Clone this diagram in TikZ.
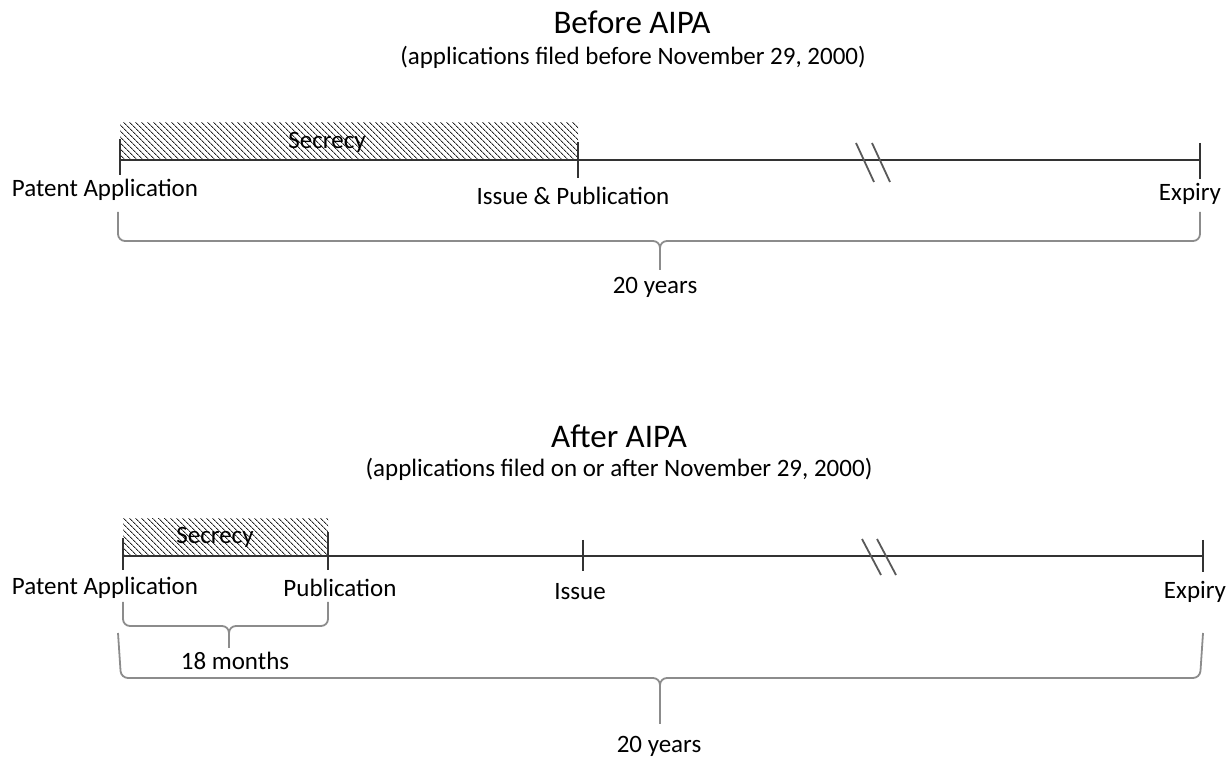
\documentclass[tikz,border=0pt]{standalone}
\usepackage{fontspec}
\setmainfont{Carlito}
\usetikzlibrary{positioning,patterns.meta}

\begin{document}
\begin{tikzpicture}[
    x=1pt, y=1pt,
    tl/.style={draw=black!80, line width=1.4pt},
    brk/.style={draw=black!65, line width=1.8pt},
    lbl/.style={font=\fontsize{25}{30}\selectfont, inner sep=0pt},
    ttl/.style={font=\fontsize{33}{39}\selectfont, inner sep=0pt},
    secret/.style={pattern={Lines[angle=-45,distance=4pt,line width=1pt]},
                   pattern color=black!85},
    brc/.style={draw=black!45, line width=1.8pt, rounded corners=7pt},
  ]
  \useasboundingbox (0,0) rectangle (1230,759);

  %% ===== Before AIPA (top) =====

  \node[ttl] (tBefore) at (632,737) {Before AIPA};
  \node[lbl] (sBefore) at (633,702) {(applications filed before November 29,~2000)};

  \coordinate (bApp) at (120,599);
  \coordinate (bIss) at (578,599);
  \coordinate (bExp) at (1200,599);

  %% secrecy block over the first part of the line
  \fill[secret] (bApp) rectangle ([yshift=37pt]bIss);
  \node[lbl] (bSec) at (327,617) {Secrecy};

  \draw[tl] (bApp) -- (bExp);
  \draw[tl] ([yshift=21pt]bApp) -- ([yshift=-15pt]bApp);
  \draw[tl] ([yshift=18pt]bIss) -- ([yshift=-18pt]bIss);
  \draw[tl] ([yshift=17pt]bExp) -- ([yshift=-19pt]bExp);

  %% break marks
  \draw[brk] (856,616) -- (874,577);
  \draw[brk] (872,616) -- (890,577);

  \node[lbl] (bAppL) at (105,569) {Patent Application};
  \node[lbl] (bIssL) at (573,563) {Issue \& Publication};
  \node[lbl] (bExpL) at (1190,565) {Expiry};

  %% 20 years brace
  \coordinate (bBrL) at (118,547);
  \coordinate (bBrR) at (1200,547);
  \coordinate (bTip) at (660,489);
  \draw[brc] (bBrL) -- ++(0,-29) -| (bTip);
  \draw[brc] (bBrR) -- ++(0,-29) -| (bTip);
  \node[lbl] (bYears) at (655,472) {20 years};

  %% ===== After AIPA (bottom) =====

  \node[ttl] (tAfter) at (619,323) {After AIPA};
  \node[lbl] (sAfter) at (619,290) {(applications filed on or after November 29,~2000)};

  \coordinate (aApp) at (123,203);
  \coordinate (aPub) at (328,203);
  \coordinate (aIss) at (583,203);
  \coordinate (aExp) at (1203,203);

  \fill[secret] (aApp) rectangle ([yshift=37pt]aPub);
  \node[lbl] (aSec) at (215,222) {Secrecy};

  \draw[tl] (aApp) -- (aExp);
  \draw[tl] ([yshift=18pt]aApp) -- ([yshift=-14pt]aApp);
  \draw[tl] ([yshift=24pt]aPub) -- ([yshift=-14pt]aPub);
  \draw[tl] ([yshift=16pt]aIss) -- ([yshift=-15pt]aIss);
  \draw[tl] ([yshift=16pt]aExp) -- ([yshift=-16pt]aExp);

  %% break marks
  \draw[brk] (862,220) -- (881,184);
  \draw[brk] (877,220) -- (896,184);

  \node[lbl] (aAppL) at (105,171) {Patent Application};
  \node[lbl] (aPubL) at (340,171) {Publication};
  \node[lbl] (aIssL) at (580,167) {Issue};
  \node[lbl] (aExpL) at (1195,167) {Expiry};

  %% 18 months brace
  \coordinate (aSmL) at (123,157);
  \coordinate (aSmR) at (328,157);
  \coordinate (aSmTip) at (229,111);
  \draw[brc] (aSmL) -- ++(0,-24) -| (aSmTip);
  \draw[brc] (aSmR) -- ++(0,-24) -| (aSmTip);
  \node[lbl] (aMonths) at (235,98) {18 months};

  %% 20 years brace
  \coordinate (aBrL) at (118,126);
  \coordinate (aBrR) at (1203,126);
  \coordinate (aTip) at (660,35);
  \draw[brc] (aBrL) -- ++(3,-45) -| (aTip);
  \draw[brc] (aBrR) -- ++(-3,-45) -| (aTip);
  \node[lbl] (aYears) at (659,13) {20 years};

\end{tikzpicture}
\end{document}
